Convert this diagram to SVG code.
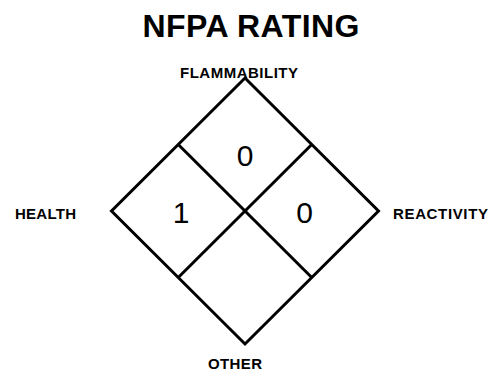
<svg xmlns="http://www.w3.org/2000/svg" width="490" height="372" viewBox="0 0 490 372">
<style>
.lbl{font-family:"Liberation Sans",Arial,sans-serif;font-weight:bold;font-size:15px;fill:#000;text-anchor:middle}
.num{font-family:"Liberation Sans",Arial,sans-serif;font-size:30px;fill:#000;text-anchor:middle}
.ln{stroke:#000;stroke-width:3;fill:none;stroke-linejoin:miter}
</style>
<rect width="490" height="372" fill="#fff"/>
<text x="251" y="37" font-family="'Liberation Sans',Arial,sans-serif" font-weight="bold" font-size="32" text-anchor="middle" textLength="217">NFPA RATING</text>
<g id="diamond">
<polygon class="ln" points="245,78 378.5,211 245,344 111.5,211"/>
</g>
<g id="connectors">
<line class="ln" x1="178.25" y1="144.5" x2="311.75" y2="277.5"/>
<line class="ln" x1="311.75" y1="144.5" x2="178.25" y2="277.5"/>
</g>
<g id="flammability"><text class="lbl" x="239" y="78" textLength="118">FLAMMABILITY</text><text class="num" x="245" y="166">0</text></g>
<g id="health"><text class="lbl" x="45.5" y="219" textLength="61">HEALTH</text><text class="num" x="181" y="223">1</text></g>
<g id="reactivity"><text class="lbl" x="440.5" y="219" textLength="95">REACTIVITY</text><text class="num" x="304.5" y="223">0</text></g>
<g id="other"><text class="lbl" x="235" y="369" textLength="54">OTHER</text></g>
</svg>
